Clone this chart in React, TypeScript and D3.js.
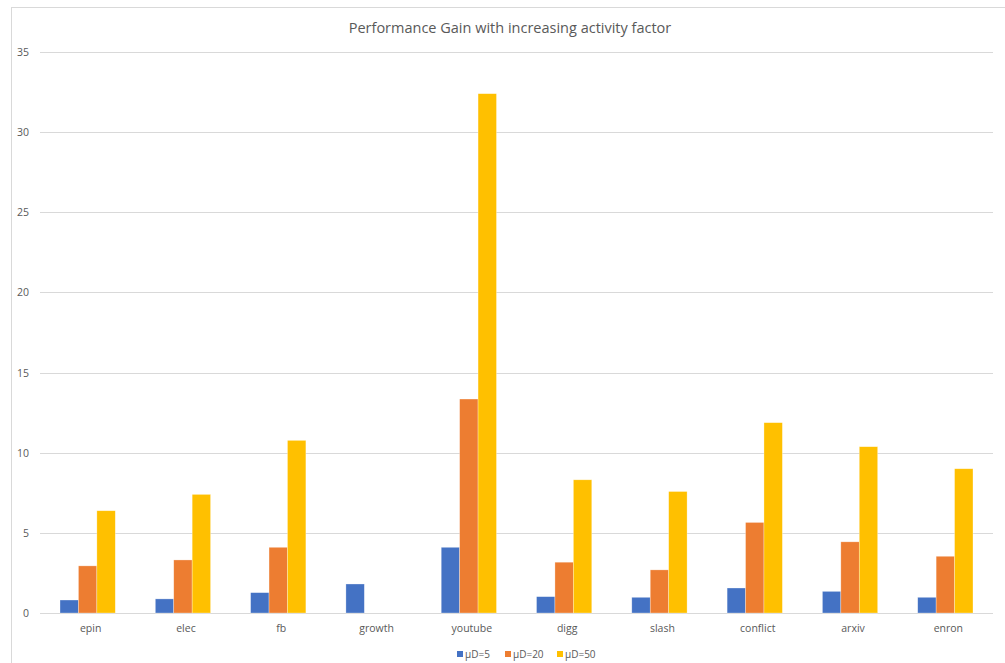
import React from "react";
import * as d3 from "d3";

const categories = ["epin", "elec", "fb", "growth", "youtube", "digg", "slash", "conflict", "arxiv", "enron"];
const seriesNames = ["μD=5", "μD=20", "μD=50"];
const mu5 = [0.81, 0.88, 1.27, 1.81, 4.1, 1.02, 0.98, 1.56, 1.35, 0.98];
const mu20 = [2.94, 3.31, 4.1, 0, 13.35, 3.17, 2.69, 5.65, 4.44, 3.54];
const mu50 = [6.38, 7.4, 10.77, 0, 32.4, 8.31, 7.58, 11.875, 10.375, 9.0];
const yTicks = [0, 5, 10, 15, 20, 25, 30, 35];
const colors = ["#4472C4", "#ED7D31", "#FFC000"];

const W = 1005;
const H = 663;

export default function App() {
  const series = [mu5, mu20, mu50];
  const x = d3.scaleBand<string>().domain(categories).range([40, 993]).paddingInner(0.42).paddingOuter(0.21);
  const xi = d3.scaleBand<number>().domain([0, 1, 2]).range([0, x.bandwidth()]);
  const y = d3.scaleLinear().domain([0, 35]).range([613, 52]);
  const font = "Open Sans, Calibri, sans-serif";
  const legendX = [457, 505, 557];

  return (
    <svg width={W} height={H} style={{ position: "absolute", left: 0, top: 0 }}>
      <rect x={0} y={0} width={W} height={H} fill="#fff" />
      <rect x={11.5} y={7.5} width={W + 10} height={H + 10} fill="none" stroke="#d9d9d9" strokeWidth={1} />
      <text x={510} y={33} textAnchor="middle" fontFamily={font} fontSize={14.5} fill="#595959">
        Performance Gain with increasing activity factor
      </text>
      {yTicks.map((t) => (
        <g key={t}>
          <line x1={40} x2={993} y1={Math.round(y(t)) + 0.5} y2={Math.round(y(t)) + 0.5} stroke="#d9d9d9" strokeWidth={1} />
          <text x={29} y={y(t) + 4} textAnchor="end" fontFamily={font} fontSize={10.5} fill="#595959">
            {t}
          </text>
        </g>
      ))}
      {categories.map((c, ci) => (
        <g key={c} transform={`translate(${x(c)},0)`}>
          {series.map((s, si) =>
            s[ci] > 0 ? (
              <rect
                key={si}
                x={xi(si)}
                y={y(s[ci])}
                width={xi.bandwidth()}
                height={y(0) - y(s[ci])}
                fill={colors[si]}
                stroke="#fff"
                strokeOpacity={0.5}
                strokeWidth={0.6}
              />
            ) : null
          )}
          <text x={x.bandwidth() / 2 + 3} y={632} textAnchor="middle" fontFamily={font} fontSize={10.5} fill="#595959">
            {c}
          </text>
        </g>
      ))}
      {seriesNames.map((n, i) => (
        <g key={n}>
          <rect x={legendX[i]} y={651} width={6} height={6} fill={colors[i]} />
          <text x={legendX[i] + 8} y={658} fontFamily={font} fontSize={10} fill="#595959">
            {n}
          </text>
        </g>
      ))}
    </svg>
  );
}
